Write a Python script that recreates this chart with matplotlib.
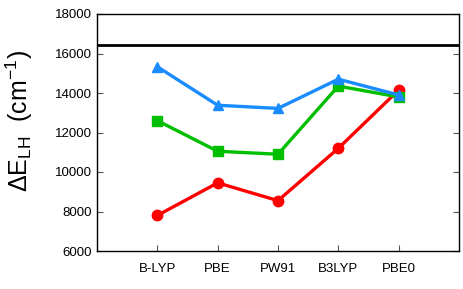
import matplotlib.pyplot as plt

# functionals on the x axis
methods = ['B-LYP', 'PBE', 'PW91', 'B3LYP', 'PBE0']

# Delta E_LH values (cm^-1)
blue_vals = [15330, 13380, 13220, 14700, 13900]
green_vals = [12600, 11050, 10900, 14350, 13800]
red_vals = [7800, 9450, 8550, 11200, 14150]
reference = 16430

plt.rcParams['font.family'] = ['Liberation Sans', 'DejaVu Sans']
plt.rcParams['mathtext.fontset'] = 'custom'
plt.rcParams['mathtext.rm'] = 'Liberation Sans'

fig = plt.figure(figsize=(4.64, 2.89), dpi=100)
ax = fig.add_axes([97 / 464, 1 - 251 / 289, 362 / 464, 237 / 289])

x = list(range(1, len(methods) + 1))
ax.plot(x, red_vals, '-o', color='#ff0000', lw=2.4, ms=7.5)
ax.plot(x, green_vals, '-s', color='#00bf00', lw=2.4, ms=7.5)
ax.plot(x, blue_vals, '-^', color='#1a8cff', lw=2.4, ms=7.5)
ax.axhline(reference, color='black', lw=2)

ax.set_xlim(0, 6)
ax.set_ylim(6000, 18000)
ax.set_xticks(x)
ax.set_xticklabels(methods)
ax.set_yticks(range(6000, 18001, 2000))
ax.tick_params(axis='y', direction='in', right=True, length=4, labelsize=9.5, colors='#555555', labelcolor='black')
ax.tick_params(axis='x', direction='in', length=4, labelsize=9.5, colors='#555555', labelcolor='black', pad=9)
for s in ax.spines.values():
    s.set_linewidth(1)

ax.set_ylabel('ΔE$_{\\mathregular{LH}}$  (cm$^{\\mathregular{-1}}$)', fontsize=18)
ax.yaxis.set_label_coords(-0.17, 0.55)

fig.savefig('out.png', dpi=100)
